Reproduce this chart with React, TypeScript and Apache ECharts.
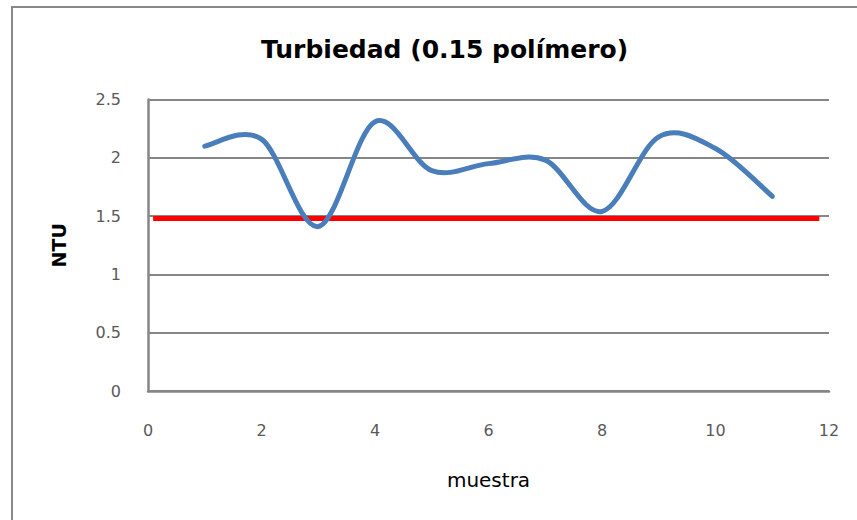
import React, { useEffect, useRef } from "react";
import * as echarts from "echarts";

const muestra = [1, 2, 3, 4, 5, 6, 7, 8, 9, 10, 11];
const ntu = [2.1, 2.16, 1.41, 2.31, 1.89, 1.95, 1.98, 1.54, 2.18, 2.08, 1.67];
const limitX = [0.09, 11.83];
const limitY = [1.48, 1.48];
const titleText = "Turbiedad (0.15 polímero)";
const xName = "muestra";
const yName = "NTU";

export default function App() {
  const ref = useRef<HTMLDivElement>(null);
  useEffect(() => {
    const chart = echarts.init(ref.current!, null, { renderer: "svg" });
    const font = "'DejaVu Sans', 'Liberation Sans', sans-serif";
    const points = muestra.map((x, i) => [x, ntu[i]]);
    chart.setOption({
      animation: false,
      backgroundColor: "#ffffff",
      textStyle: { fontFamily: font },
      title: {
        text: titleText,
        left: 256,
        top: 32,
        textStyle: { fontSize: 25, fontWeight: "bold", color: "#000", fontFamily: font },
      },
      graphic: [
        {
          type: "rect",
          shape: { x: 12, y: 7, width: 900, height: 600 },
          style: { fill: "none", stroke: "#888888", lineWidth: 2 },
          silent: true,
        },
      ],
      grid: { left: 148, right: 28, top: 99.5, bottom: 129, outerBoundsMode: "none" },
      xAxis: {
        type: "value",
        min: 0,
        max: 12,
        interval: 2,
        name: xName,
        nameLocation: "middle",
        nameGap: 79,
        nameTextStyle: { fontSize: 20, color: "#000", fontFamily: font },
        axisLine: { show: true, lineStyle: { color: "#868686", width: 2.5 } },
        axisTick: { show: false },
        splitLine: { show: false },
        axisLabel: { margin: 31, fontSize: 16, color: "#595959" },
      },
      yAxis: {
        type: "value",
        min: 0,
        max: 2.5,
        interval: 0.5,
        name: yName,
        nameLocation: "middle",
        nameGap: 80,
        nameTextStyle: { fontSize: 19, fontWeight: "bold", color: "#000", fontFamily: font },
        axisLine: { show: true, lineStyle: { color: "#868686", width: 2.5 } },
        axisTick: { show: false },
        splitLine: { show: true, lineStyle: { color: "#868686", width: 2 } },
        axisLabel: { margin: 27, fontSize: 16, color: "#595959" },
      },
      series: [
        {
          type: "line",
          data: limitX.map((x, i) => [x, limitY[i]]),
          showSymbol: false,
          lineStyle: { color: "#FF0000", width: 5, cap: "butt" },
          z: 2,
        },
        {
          type: "custom",
          data: points,
          encode: { x: 0, y: 1 },
          clip: false,
          z: 3,
          renderItem: (params: any, api: any) => {
            if (params.dataIndex !== 0) return null;
            const pts = points.map((p) => api.coord(p));
            const n = pts.length;
            let d = `M${pts[0][0]},${pts[0][1]}`;
            for (let i = 0; i < n - 1; i++) {
              const p0 = pts[Math.max(i - 1, 0)];
              const p1 = pts[i];
              const p2 = pts[i + 1];
              const p3 = pts[Math.min(i + 2, n - 1)];
              const c1x = p1[0] + (p2[0] - p0[0]) / 6;
              const c1y = p1[1] + (p2[1] - p0[1]) / 6;
              const c2x = p2[0] - (p3[0] - p1[0]) / 6;
              const c2y = p2[1] - (p3[1] - p1[1]) / 6;
              d += ` C${c1x},${c1y} ${c2x},${c2y} ${p2[0]},${p2[1]}`;
            }
            return {
              type: "path",
              shape: { pathData: d },
              style: {
                fill: "none",
                stroke: "#4A7EBB",
                lineWidth: 5,
                lineJoin: "round",
                lineCap: "round",
              },
            };
          },
        },
      ],
    });
    return () => chart.dispose();
  }, []);
  return <div ref={ref} style={{ width: 857, height: 520, position: "absolute", left: 0, top: 0 }} />;
}
